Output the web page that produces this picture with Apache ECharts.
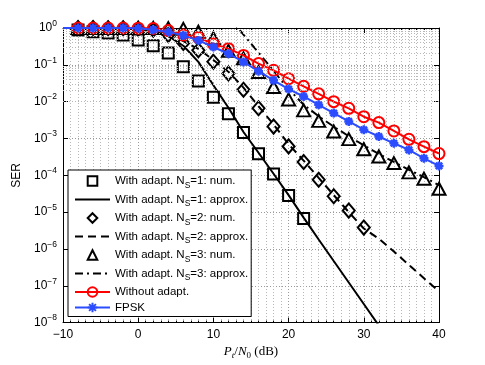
<!DOCTYPE html>
<html><head><meta charset="utf-8">
<script src="https://cdn.jsdelivr.net/npm/echarts@6/dist/echarts.min.js"></script>
<style>html,body{margin:0;padding:0;background:#fff}#c{width:485px;height:365px}</style>
</head><body><div id="c"></div>
<script>
// ---- data ----
const xTicks = [-10, 0, 10, 20, 30, 40];
const yDecades = [-8, -7, -6, -5, -4, -3, -2, -1, 0];

const ns1NumX = [-8,-6,-4,-2,0,2,4,6,8,10,12,14,16,18,20,22];
const ns1NumY = [0.88,0.79,0.73,0.65,0.47,0.33,0.21,0.089,0.0366,0.0132,0.0047,1.46e-3,3.85e-4,1.08e-4,2.85e-5,6.7e-6];

const ns1ApproxX = [-8,-6,-4,-2,0,2,4,6,8,10,12,14,16,18,20,22,24,26,28,30,32];
const ns1ApproxY = [1.0,1.0,0.99,0.97,0.93,0.83,0.6,0.33,0.12,0.028,6.8e-3,1.5e-3,4.1e-4,1.1e-4,2.9e-5,7.1e-6,1.8e-6,4.7e-7,1.23e-7,3.2e-8,8.3e-9];

const ns2NumX = [-8,-6,-4,-2,0,2,4,6,8,10,12,14,16,18,20,22,24,26,28,30];
const ns2NumY = [1.0,1.0,0.99,0.98,0.96,0.9,0.65,0.39,0.25,0.122,0.058,0.021,6.6e-3,2.1e-3,6.1e-4,2.3e-4,7.6e-5,2.7e-5,1.1e-5,3.8e-6];

const ns2ApproxX = [-8,-6,-4,-2,0,2,4,6,8,10,12,14,16,18,20,22,24,26,28,30,32,34,36,38,40];
const ns2ApproxY = [1.0,1.0,1.0,0.99,0.98,0.93,0.72,0.44,0.27,0.135,0.065,0.024,7.5e-3,2.4e-3,7e-4,2.5e-4,8.5e-5,2.9e-5,1.0e-5,3.6e-6,1.9e-6,8.5e-7,3.7e-7,1.6e-7,7.1e-8];

const ns3NumX = [-8,-6,-4,-2,0,2,4,6,8,10,12,14,16,18,20,22,24,26,28,30,32,34,36,38,40];
const ns3NumY = [1.0,1.0,1.0,1.0,1.0,1.0,0.99,0.95,0.79,0.53,0.24,0.15,0.064,0.025,0.0115,5.8e-3,3.0e-3,1.55e-3,9.6e-4,5.1e-4,3.25e-4,2.15e-4,1.2e-4,8.1e-5,4.3e-5];

const ns3ApproxX = [12,14,16,18,20,22,24,26,28,30,32,34,36,38,40];
const ns3ApproxY = [2.1,0.66,0.214,0.069,0.022,8.3e-3,4.0e-3,2.1e-3,1.15e-3,6.5e-4,3.8e-4,2.3e-4,1.4e-4,8.9e-5,5.4e-5];

const noAdaptX = [-8,-6,-4,-2,0,2,4,6,8,10,12,14,16,18,20,22,24,26,28,30,32,34,36,38,40];
const noAdaptY = [1.0,1.0,1.0,1.0,0.99,0.97,0.85,0.65,0.55,0.37,0.275,0.18,0.108,0.071,0.042,0.026,0.0163,0.0100,6.6e-3,3.9e-3,2.7e-3,1.6e-3,9.5e-4,6.0e-4,3.9e-4];

const fpskX = [-10,-8,-6,-4,-2,0,2,4,6,8,10,12,14,16,18,20,22,24,26,28,30,32,34,36,38,40];
const fpskY = [1.0,1.0,1.0,1.0,1.0,0.98,0.9,0.78,0.63,0.46,0.305,0.2,0.12,0.067,0.038,0.022,0.0138,8.2e-3,4.9e-3,2.9e-3,1.73e-3,1.13e-3,7.4e-4,4.9e-4,2.9e-4,1.8e-4];

const names = ['With adapt. N_S=1: num.','With adapt. N_S=1: approx.','With adapt. N_S=2: num.','With adapt. N_S=2: approx.','With adapt. N_S=3: num.','With adapt. N_S=3: approx.','Without adapt.','FPSK'];

// ---- chart ----
const pairs = (xs, ys) => xs.map((x, i) => [x, ys[i]]);
const SANS = 'Liberation Sans';
const SERIF = 'Liberation Serif';
const BLUE = '#2b4cff';
const RED = '#ff0000';

const diamond = 'path://M0,-1L1,0L0,1L-1,0Z';
const asterisk = 'path://M0,-1L0,1M-1,0L1,0M-0.71,-0.71L0.71,0.71M-0.71,0.71L0.71,-0.71';

function markerSeries(name, data, symbol, size) {
  return {
    name, type: 'line', data, symbol, symbolSize: size, showSymbol: true,
    lineStyle: { color: '#000', width: 2, opacity: 0 },
    itemStyle: { color: 'transparent', borderColor: '#000', borderWidth: 2 },
    z: 3, clip: true
  };
}
function lineSeries(name, data, type) {
  return {
    name, type: 'line', data, symbol: 'circle', showSymbol: false,
    lineStyle: { color: '#000', width: 2, type },
    itemStyle: { color: '#000', opacity: 0 },
    z: 3, clip: true
  };
}

// minor log grid values (2..9 x 10^k)
const minorY = [];
for (let k = -8; k < 0; k++) for (let m = 2; m <= 9; m++) minorY.push({ yAxis: m * Math.pow(10, k) });

const fpskData = pairs(fpskX, fpskY).map((p, i) => i === 0 ? { value: p, symbol: 'none' } : p);

const option = {
  animation: false,
  backgroundColor: '#fff',
  grid: { left: 63, right: 46, top: 28, bottom: 42, containLabel: false },
  xAxis: [{
    type: 'value', min: -10, max: 40, interval: 10,
    name: '{i|P}{st|t}{r|/}{i|N}{s0|0}{r| (dB)}',
    nameLocation: 'middle', nameGap: 17,
    nameTextStyle: {
      rich: {
        i: { fontFamily: SERIF, fontStyle: 'italic', fontSize: 13, color: '#000' },
        st: { fontFamily: SERIF, fontStyle: 'italic', fontSize: 9, color: '#000', padding: [7, 0, 0, 0] },
        s0: { fontFamily: SERIF, fontSize: 9, color: '#000', padding: [7, 0, 0, 0] },
        r: { fontFamily: SERIF, fontSize: 13, color: '#000' }
      }
    },
    axisLine: { show: true, onZero: false, lineStyle: { color: '#000', width: 1 } },
    axisTick: { show: true, inside: true, length: 5, lineStyle: { color: '#000' } },
    minorTick: { show: true, splitNumber: 10, length: 2, lineStyle: { color: '#000' } },
    axisLabel: {
      fontFamily: SANS, fontSize: 12, color: '#000', margin: 6,
      formatter: v => xTicks.includes(v) ? String(v).replace('-', '\u2212') : ''
    },
    splitLine: { show: true, lineStyle: { color: '#9a9a9a', type: [1, 2], width: 1 } },
    minorSplitLine: { show: true, lineStyle: { color: '#b8b8b8', type: [1, 2], width: 1 } }
  }, {
    type: 'value', position: 'top', min: -10, max: 40, interval: 10,
    axisLine: { show: true, onZero: false, lineStyle: { color: '#000', width: 1 } },
    axisTick: { show: true, inside: true, length: 5, lineStyle: { color: '#000' } },
    minorTick: { show: true, splitNumber: 10, length: 2, lineStyle: { color: '#000' } },
    axisLabel: { show: false }, splitLine: { show: false }
  }],
  yAxis: [{
    type: 'log', logBase: 10, min: 1e-8, max: 1, splitNumber: 8,
    name: 'SER', nameLocation: 'middle', nameGap: 28,
    nameTextStyle: { fontFamily: SANS, fontSize: 12, color: '#000' },
    axisLine: { show: true, onZero: false, lineStyle: { color: '#000', width: 1 } },
    axisTick: { show: true, inside: true, length: 5, lineStyle: { color: '#000' } },
    axisLabel: {
      fontFamily: SANS, fontSize: 12, color: '#000', margin: 6,
      formatter: v => {
        const e = Math.round(Math.log10(v));
        if (!yDecades.includes(e)) return '';
        return '{b|10}{e|' + (e < 0 ? '\u2212' + (-e) : e) + '}';
      },
      rich: {
        b: { fontFamily: SANS, fontSize: 12, color: '#000' },
        e: { fontFamily: SANS, fontSize: 8.5, color: '#000', padding: [0, 0, 9, 0] }
      }
    },
    splitLine: { show: true, lineStyle: { color: '#9a9a9a', type: [1, 2], width: 1 } }
  }, {
    type: 'log', logBase: 10, min: 1e-8, max: 1, splitNumber: 8, position: 'right',
    axisLine: { show: true, onZero: false, lineStyle: { color: '#000', width: 1 } },
    axisTick: { show: true, inside: true, length: 5, lineStyle: { color: '#000' } },
    axisLabel: { show: false }, splitLine: { show: false }
  }],
  legend: {
    orient: 'vertical', left: 68, top: 170,
    itemWidth: 35, itemHeight: 12, itemGap: 3.5,
    padding: [5, 3, 3, 6],
    backgroundColor: '#fff', borderColor: '#000', borderWidth: 1, borderRadius: 0,
    selectedMode: false,
    data: names,
    formatter: n => n.replace('N_S', 'N{s|S}'),
    textStyle: {
      fontFamily: SANS, fontSize: 11.5, color: '#000',
      rich: { s: { fontFamily: SANS, fontSize: 8.5, color: '#000', padding: [9, 0, 0, 0] } }
    }
  },
  series: [
    {
      name: 'grid', type: 'line', data: [], z: 1, silent: true,
      markLine: {
        silent: true, symbol: ['none', 'none'], label: { show: false },
        lineStyle: { color: '#b8b8b8', type: [1, 2], width: 1 },
        emphasis: { disabled: true },
        data: minorY
      }
    },
    markerSeries(names[0], pairs(ns1NumX, ns1NumY), 'rect', 11),
    lineSeries(names[1], pairs(ns1ApproxX, ns1ApproxY), 'solid'),
    markerSeries(names[2], pairs(ns2NumX, ns2NumY), diamond, [12, 14]),
    lineSeries(names[3], pairs(ns2ApproxX, ns2ApproxY), [8, 5]),
    markerSeries(names[4], pairs(ns3NumX, ns3NumY), 'triangle', [13, 12]),
    lineSeries(names[5], pairs(ns3ApproxX, ns3ApproxY), [8, 4, 2, 4]),
    {
      name: names[6], type: 'line', data: pairs(noAdaptX, noAdaptY),
      symbol: 'circle', symbolSize: 11, showSymbol: true,
      lineStyle: { color: RED, width: 2 },
      itemStyle: { color: 'transparent', borderColor: RED, borderWidth: 2 },
      z: 4, clip: true
    },
    {
      name: names[7], type: 'line', data: fpskData,
      symbol: asterisk, symbolSize: 9, showSymbol: true,
      lineStyle: { color: BLUE, width: 2 },
      itemStyle: { color: BLUE, borderColor: BLUE, borderWidth: 2.5 },
      z: 5, clip: true
    }
  ]
};
const chart = echarts.init(document.getElementById('c'), null, { renderer: 'canvas' });
chart.setOption(option);
</script>
</body></html>
